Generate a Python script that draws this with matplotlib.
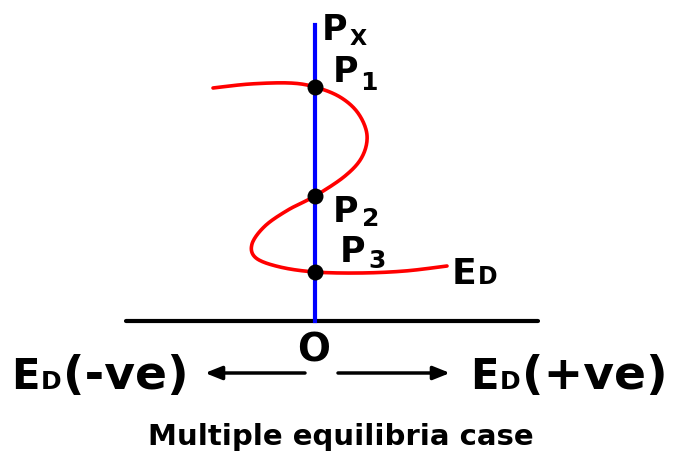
import matplotlib
matplotlib.use("Agg")
import matplotlib.pyplot as plt
import numpy as np

# ---- data (pixel-space coordinates) ----
curve_x = [213, 250, 290, 315, 340, 358, 367, 362, 345, 315, 288, 265, 252, 256, 280, 315, 360, 405, 447]
curve_y = [88, 84, 83, 87, 97, 113, 135, 157, 176, 196, 210, 226, 244, 258, 267, 272, 273, 271, 266]
eq_x = [315, 315, 315]
eq_y = [87, 196, 272]
eq_labels = ["1", "2", "3"]
axis_x = 315
axis_top = 25
base_y = 321
base_x = [126, 538]

W, H = 679, 453
fig = plt.figure(figsize=(W / 100, H / 100), dpi=100)
ax = fig.add_axes([0, 0, 1, 1])
ax.set_xlim(0, W)
ax.set_ylim(H, 0)
ax.axis("off")

FONT = "DejaVu Sans"


def catmull(xs, ys, n=20):
    P = np.column_stack([xs, ys]).astype(float)
    P = np.vstack([P[0], P, P[-1]])
    out = []
    for i in range(1, len(P) - 2):
        p0, p1, p2, p3 = P[i - 1], P[i], P[i + 1], P[i + 2]
        for t in np.linspace(0, 1, n, endpoint=False):
            t2, t3 = t * t, t * t * t
            out.append(0.5 * ((2 * p1) + (-p0 + p2) * t + (2 * p0 - 5 * p1 + 4 * p2 - p3) * t2
                              + (-p0 + 3 * p1 - 3 * p2 + p3) * t3))
    out.append(P[-2])
    return np.array(out)


c = catmull(curve_x, curve_y)

ax.plot(base_x, [base_y, base_y], color="black", lw=3, solid_capstyle="round", zorder=2)
ax.plot([axis_x, axis_x], [axis_top, base_y], color="#0000ff", lw=3, zorder=3)
ax.plot(c[:, 0], c[:, 1], color="#ff0000", lw=2.6, zorder=4, solid_capstyle="round")
ax.scatter(eq_x, eq_y, s=110, color="black", zorder=5)


def txt(x, y, s, size):
    return ax.text(x, y, s, fontsize=size, fontweight="bold", family=FONT,
                   ha="left", va="baseline", zorder=6)


def right_edge(t):
    fig.canvas.draw()
    bb = t.get_window_extent()
    return ax.transData.inverted().transform((bb.x1, bb.y0))[0]


def label(x, y, main, subs, size, subsize, gap=1, dy=0):
    t = txt(x, y, main, size)
    return txt(right_edge(t) + gap, y + dy, subs, subsize)


label(322, 40, "P", "X", 25, 16, gap=2, dy=5)
label(333, 82, "P", eq_labels[0], 25, 18, gap=2, dy=8)
label(333, 222, "P", eq_labels[1], 25, 18, gap=3, dy=4)
label(340, 262, "P", eq_labels[2], 25, 18, gap=3, dy=6)
label(452, 284, "E", "D", 26, 17, gap=1, dy=0)

# origin
ax.text(314, 362, "O", fontsize=28, fontweight="bold", family=FONT, ha="center", va="baseline")

# bottom labels
s = label(11, 389, "E", "D", 30, 18, gap=1)
txt(right_edge(s) + 2, 389, "(-ve)", 34)
s = label(470, 389, "E", "D", 30, 18, gap=1)
txt(right_edge(s) + 2, 389, "(+ve)", 34)

# arrows
ax.annotate("", xy=(205, 373), xytext=(305, 373),
            arrowprops=dict(arrowstyle="-|>,head_length=1.0,head_width=0.4", color="black", lw=2.5,
                            shrinkA=0, shrinkB=0))
ax.annotate("", xy=(450, 373), xytext=(338, 373),
            arrowprops=dict(arrowstyle="-|>,head_length=1.0,head_width=0.4", color="black", lw=2.5,
                            shrinkA=0, shrinkB=0))

ax.text(341, 445, "Multiple equilibria case", fontsize=21, fontweight="bold", family=FONT,
        ha="center", va="baseline")

fig.savefig("out.png", dpi=100, facecolor="white")
